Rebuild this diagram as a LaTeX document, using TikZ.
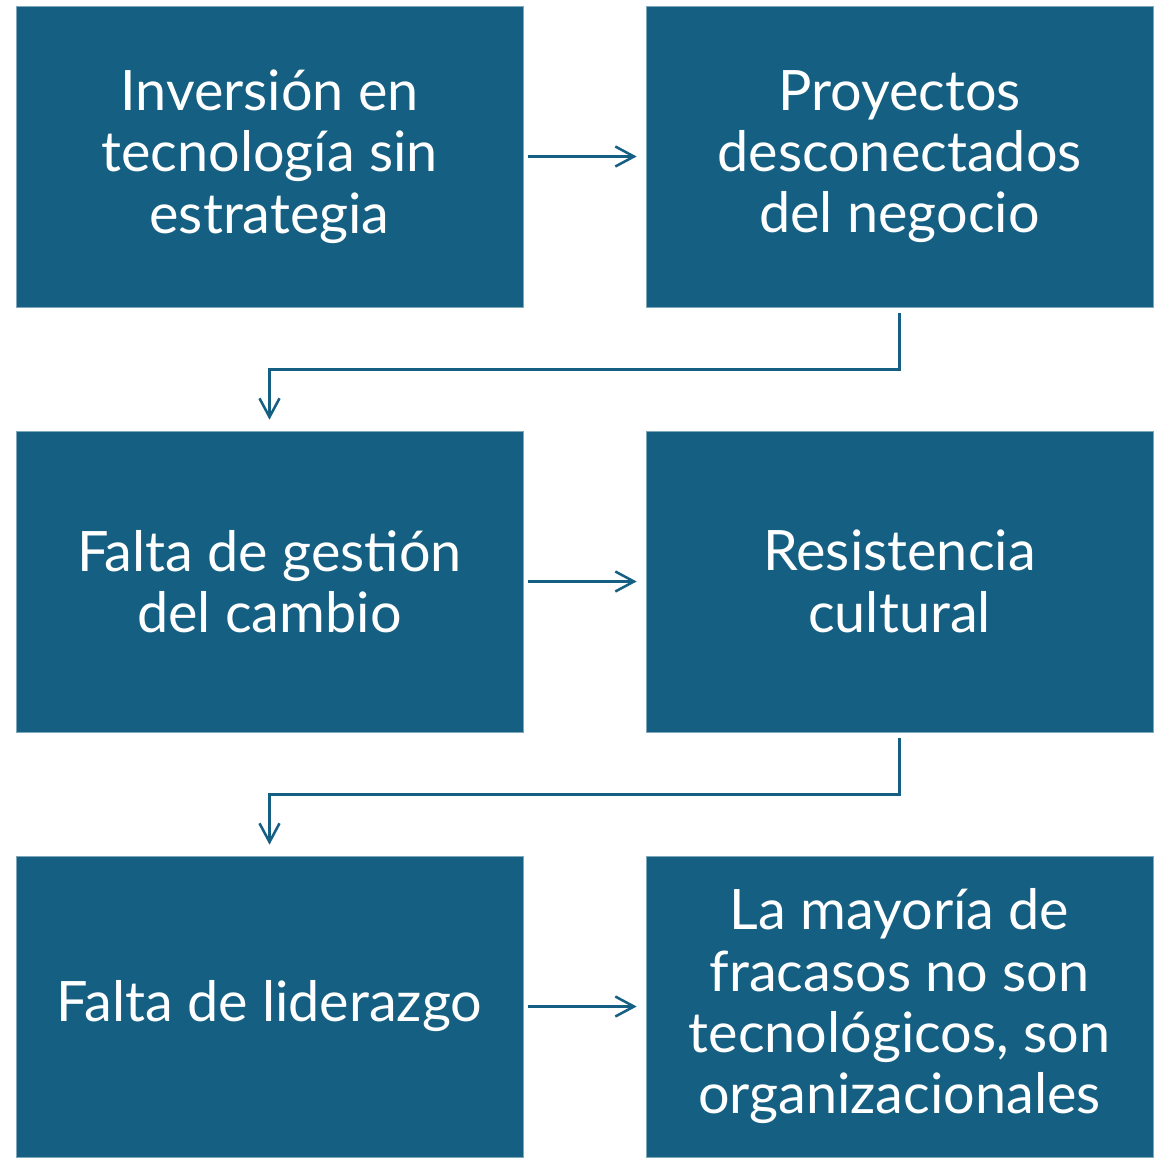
\documentclass[tikz,border=0pt]{standalone}
\usepackage{fontspec}
\setmainfont{Lato}
\usetikzlibrary{arrows.meta}
\definecolor{boxc}{HTML}{156082}
\tikzset{
  box/.style={rectangle, fill=boxc, draw=white!45!boxc, line width=0.5pt,
    minimum width=380.25pt, minimum height=225.75pt, inner sep=0pt,
    text=white, align=center, font=\fontsize{41.8}{46}\selectfont},
  conn/.style={draw=boxc, line width=1.9pt,
    -{Straight Barb[length=14pt,width=15pt,line width=1.9pt]}}
}
\begin{document}
\begin{tikzpicture}[x=0.75pt,y=-0.75pt]
\useasboundingbox (0,0) rectangle (1159,1157);
\node[box] (b1) at (269.5,156.5) {Inversión en\\tecnología sin\\estrategia};
\node[box] (b2) at (899.5,156.5) {Proyectos\\desconectados\\del negocio};
\node[box] (b3) at (269.5,581.5) {Falta de gestión\\del cambio};
\node[box] (b4) at (899.5,581.5) {Resistencia\\cultural};
\node[box] (b5) at (269.5,1006.5) {Falta de liderazgo};
\node[box] (b6) at (899.5,1006.5) {La mayoría de\\fracasos no son\\tecnológicos, son\\organizacionales};
\draw[conn, shorten <=3.75pt, shorten >=6.75pt] (b1.east) -- (b2.west);
\draw[conn, shorten <=3.75pt, shorten >=6.75pt] (b3.east) -- (b4.west);
\draw[conn, shorten <=3.75pt, shorten >=6.75pt] (b5.east) -- (b6.west);
\draw[conn, shorten <=4.5pt, shorten >=8.25pt] (b2.south) -- ++(0,62) -| (b3.north);
\draw[conn, shorten <=4.5pt, shorten >=8.25pt] (b4.south) -- ++(0,62) -| (b5.north);
\end{tikzpicture}
\end{document}
